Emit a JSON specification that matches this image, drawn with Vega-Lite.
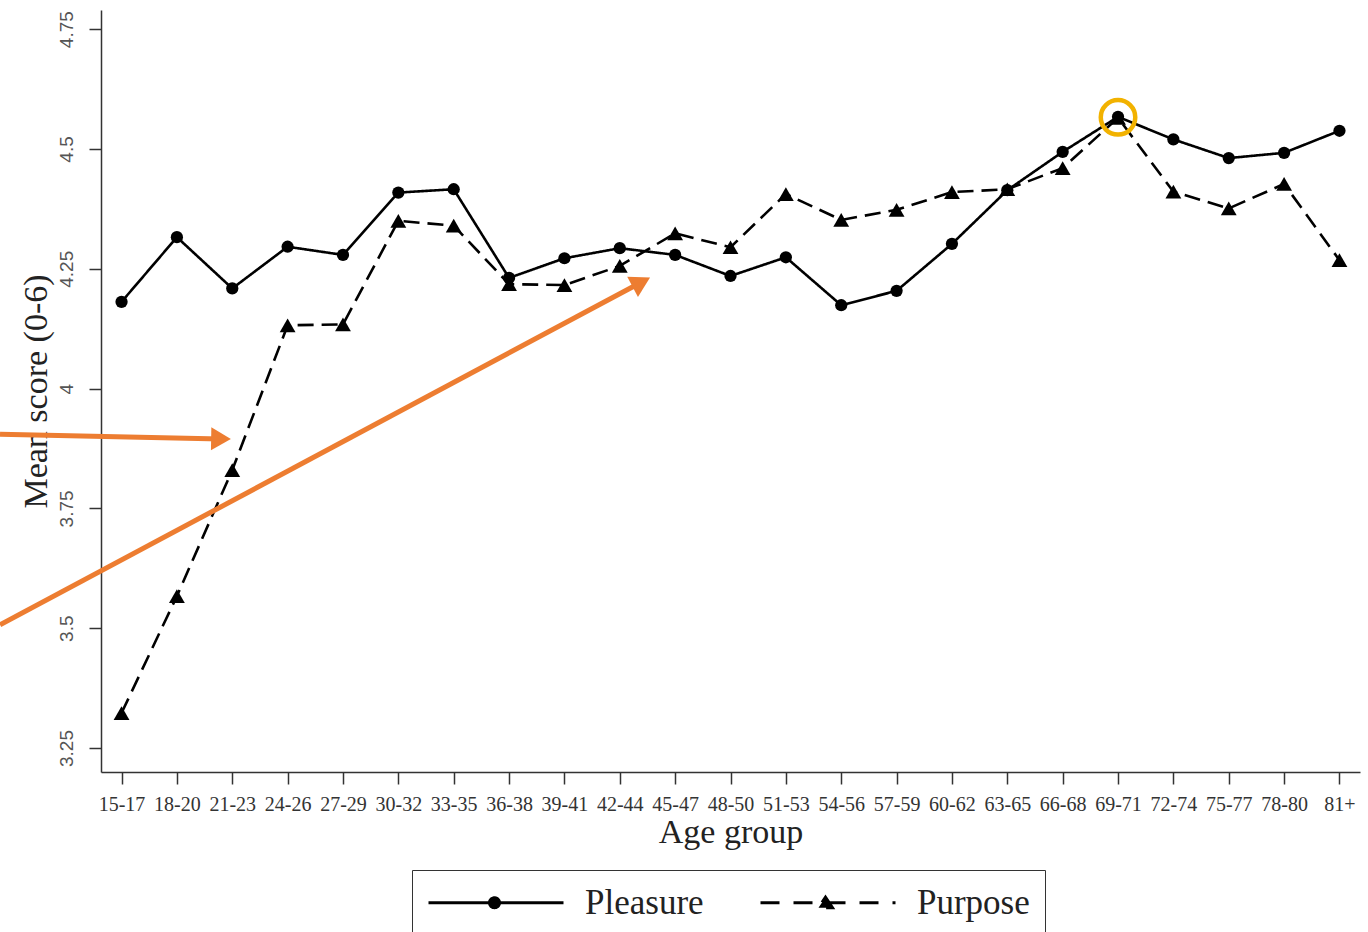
{
  "$schema": "https://vega.github.io/schema/vega-lite/v6.json",
  "width": 1259,
  "height": 762,
  "autosize": {"type": "none"},
  "padding": {"left": 101, "top": 10, "right": 8, "bottom": 160},
  "background": "white",
  "config": {
    "view": {"stroke": null},
    "axis": {"grid": false, "domainColor": "#333", "tickColor": "#333", "domainWidth": 1.5, "tickWidth": 1.5, "tickSize": 12}
  },
  "layer": [
    {
      "data": {"values": [
        {"age": "15-17", "series": "Pleasure", "score": 4.181},
        {"age": "18-20", "series": "Pleasure", "score": 4.316},
        {"age": "21-23", "series": "Pleasure", "score": 4.209},
        {"age": "24-26", "series": "Pleasure", "score": 4.296},
        {"age": "27-29", "series": "Pleasure", "score": 4.279},
        {"age": "30-32", "series": "Pleasure", "score": 4.409},
        {"age": "33-35", "series": "Pleasure", "score": 4.416},
        {"age": "36-38", "series": "Pleasure", "score": 4.231},
        {"age": "39-41", "series": "Pleasure", "score": 4.272},
        {"age": "42-44", "series": "Pleasure", "score": 4.293},
        {"age": "45-47", "series": "Pleasure", "score": 4.279},
        {"age": "48-50", "series": "Pleasure", "score": 4.235},
        {"age": "51-53", "series": "Pleasure", "score": 4.274},
        {"age": "54-56", "series": "Pleasure", "score": 4.174},
        {"age": "57-59", "series": "Pleasure", "score": 4.204},
        {"age": "60-62", "series": "Pleasure", "score": 4.302},
        {"age": "63-65", "series": "Pleasure", "score": 4.414},
        {"age": "66-68", "series": "Pleasure", "score": 4.494},
        {"age": "69-71", "series": "Pleasure", "score": 4.567},
        {"age": "72-74", "series": "Pleasure", "score": 4.52},
        {"age": "75-77", "series": "Pleasure", "score": 4.481},
        {"age": "78-80", "series": "Pleasure", "score": 4.492},
        {"age": "81+", "series": "Pleasure", "score": 4.538},
        {"age": "15-17", "series": "Purpose", "score": 3.323},
        {"age": "18-20", "series": "Purpose", "score": 3.567},
        {"age": "21-23", "series": "Purpose", "score": 3.83},
        {"age": "24-26", "series": "Purpose", "score": 4.132},
        {"age": "27-29", "series": "Purpose", "score": 4.134},
        {"age": "30-32", "series": "Purpose", "score": 4.35},
        {"age": "33-35", "series": "Purpose", "score": 4.34},
        {"age": "36-38", "series": "Purpose", "score": 4.218},
        {"age": "39-41", "series": "Purpose", "score": 4.216},
        {"age": "42-44", "series": "Purpose", "score": 4.256},
        {"age": "45-47", "series": "Purpose", "score": 4.324},
        {"age": "48-50", "series": "Purpose", "score": 4.295},
        {"age": "51-53", "series": "Purpose", "score": 4.406},
        {"age": "54-56", "series": "Purpose", "score": 4.352},
        {"age": "57-59", "series": "Purpose", "score": 4.373},
        {"age": "60-62", "series": "Purpose", "score": 4.41},
        {"age": "63-65", "series": "Purpose", "score": 4.416},
        {"age": "66-68", "series": "Purpose", "score": 4.46},
        {"age": "69-71", "series": "Purpose", "score": 4.565},
        {"age": "72-74", "series": "Purpose", "score": 4.411},
        {"age": "75-77", "series": "Purpose", "score": 4.376},
        {"age": "78-80", "series": "Purpose", "score": 4.427},
        {"age": "81+", "series": "Purpose", "score": 4.268}
      ]},
      "layer": [
        {
          "mark": {"type": "line", "color": "black", "strokeWidth": 2.6},
          "encoding": {
            "x": {"field": "age", "type": "ordinal", "sort": null,
              "scale": {"type": "point", "padding": 0.371},
              "axis": {"title": "Age group", "labelAngle": 0, "labelFont": "Liberation Serif", "labelFontSize": 20, "labelColor": "#333", "labelPadding": 10, "labelOverlap": false,
                "titleFont": "Liberation Serif", "titleFontSize": 34, "titleFontWeight": "normal", "titleColor": "#222", "titlePadding": 1}},
            "y": {"field": "score", "type": "quantitative",
              "scale": {"domain": [3.2, 4.79], "nice": false, "zero": false},
              "axis": {"title": "Mean score (0-6)", "values": [3.25, 3.5, 3.75, 4, 4.25, 4.5, 4.75], "labelExpr": "'' + datum.value",
                "labelAngle": -90, "labelAlign": "center", "labelBaseline": "bottom", "labelFont": "'Liberation Sans Narrow', 'Liberation Sans', sans-serif", "labelFontSize": 19, "labelColor": "#555", "labelPadding": 13,
                "titleFont": "Liberation Serif", "titleFontSize": 34, "titleFontWeight": "normal", "titleColor": "#222", "titlePadding": 4}},
            "detail": {"field": "series"},
            "strokeDash": {"field": "series", "type": "nominal",
              "scale": {"domain": ["Pleasure", "Purpose"], "range": [[1, 0], [16, 8]]},
              "legend": null}
          }
        },
        {
          "mark": {"type": "point", "filled": true, "color": "black", "opacity": 1},
          "encoding": {
            "x": {"field": "age", "type": "ordinal", "sort": null},
            "y": {"field": "score", "type": "quantitative"},
            "shape": {"field": "series", "type": "nominal",
              "scale": {"domain": ["Pleasure", "Purpose"], "range": ["circle", "triangle-up"]},
              "legend": null},
            "size": {"field": "series", "type": "nominal",
              "scale": {"domain": ["Pleasure", "Purpose"], "range": [150, 250]},
              "legend": null}
          }
        },
        {
          "mark": {"type": "point", "filled": true, "fill": "black", "stroke": "black", "strokeWidth": 3, "opacity": 0},
          "encoding": {
            "x": {"field": "age", "type": "ordinal", "sort": null},
            "y": {"field": "score", "type": "quantitative"},
            "shape": {"field": "series", "type": "nominal",
              "scale": {"domain": ["Pleasure", "Purpose"], "range": ["M-3.2,0H23.8M9,0A1,1,0,1,1,11,0A1,1,0,1,1,9,0Z", "M-3.2,0H23.8M9.8,-1.1L11.2,1L8.4,1Z"]},
              "legend": {"orient": "none", "legendX": 311, "legendY": 860, "direction": "horizontal", "title": null,
                "padding": 15, "strokeColor": "#333", "fillColor": "white",
                "labelFont": "Liberation Serif", "labelFontSize": 35, "labelColor": "#222", "labelOffset": 123, "columnPadding": 50,
                "symbolSize": 100, "symbolStrokeWidth": 3, "symbolOpacity": 1}},
            "strokeDash": {"field": "series", "type": "nominal",
              "scale": {"domain": ["Pleasure", "Purpose"], "range": [[1, 0], [19, 14]]},
              "legend": {"orient": "none", "legendX": 311, "legendY": 860, "direction": "horizontal", "title": null,
                "padding": 15, "strokeColor": "#333", "fillColor": "white",
                "labelFont": "Liberation Serif", "labelFontSize": 35, "labelColor": "#222", "labelOffset": 123, "columnPadding": 50,
                "symbolSize": 100, "symbolStrokeWidth": 3, "symbolOpacity": 1}}
          }
        },
        {
          "data": {"values": [{"age": "69-71", "score": 4.566}]},
          "mark": {"type": "point", "shape": "circle", "filled": false, "stroke": "#F2B200", "strokeWidth": 4.5, "opacity": 1, "size": 1190},
          "encoding": {
            "x": {"field": "age", "type": "ordinal", "sort": null},
            "y": {"field": "score", "type": "quantitative"}
          }
        }
      ],
      "resolve": {"scale": {"shape": "independent", "strokeDash": "independent", "size": "independent"}}
    },
    {
      "layer": [
        {
          "data": {"values": [
            {"x": -2.195, "y": 3.905, "x2": 1.797, "y2": 3.895},
            {"x": -2.195, "y": 3.507, "x2": 9.389, "y2": 4.222}
          ]},
          "mark": {"type": "rule", "color": "#ED7D31", "strokeWidth": 5},
          "encoding": {
            "x": {"field": "x", "type": "quantitative", "scale": {"domain": [-0.371, 22.371], "nice": false, "zero": false}, "axis": null},
            "x2": {"field": "x2"},
            "y": {"field": "y", "type": "quantitative", "scale": {"domain": [3.2, 4.79], "nice": false, "zero": false}, "axis": null},
            "y2": {"field": "y2"}
          }
        },
        {
          "data": {"values": [{"x": 1.797, "y": 3.895}]},
          "mark": {"type": "point", "shape": "triangle-right", "filled": true, "color": "#ED7D31", "opacity": 1, "size": 520, "angle": 1},
          "encoding": {
            "x": {"field": "x", "type": "quantitative", "axis": null},
            "y": {"field": "y", "type": "quantitative", "axis": null}
          }
        },
        {
          "data": {"values": [{"x": 9.389, "y": 4.222}]},
          "mark": {"type": "point", "shape": "triangle-right", "filled": true, "color": "#ED7D31", "opacity": 1, "size": 520, "angle": 332},
          "encoding": {
            "x": {"field": "x", "type": "quantitative", "axis": null},
            "y": {"field": "y", "type": "quantitative", "axis": null}
          }
        }
      ]
    }
  ],
  "resolve": {"scale": {"x": "independent"}, "axis": {"y": "independent"}}
}
